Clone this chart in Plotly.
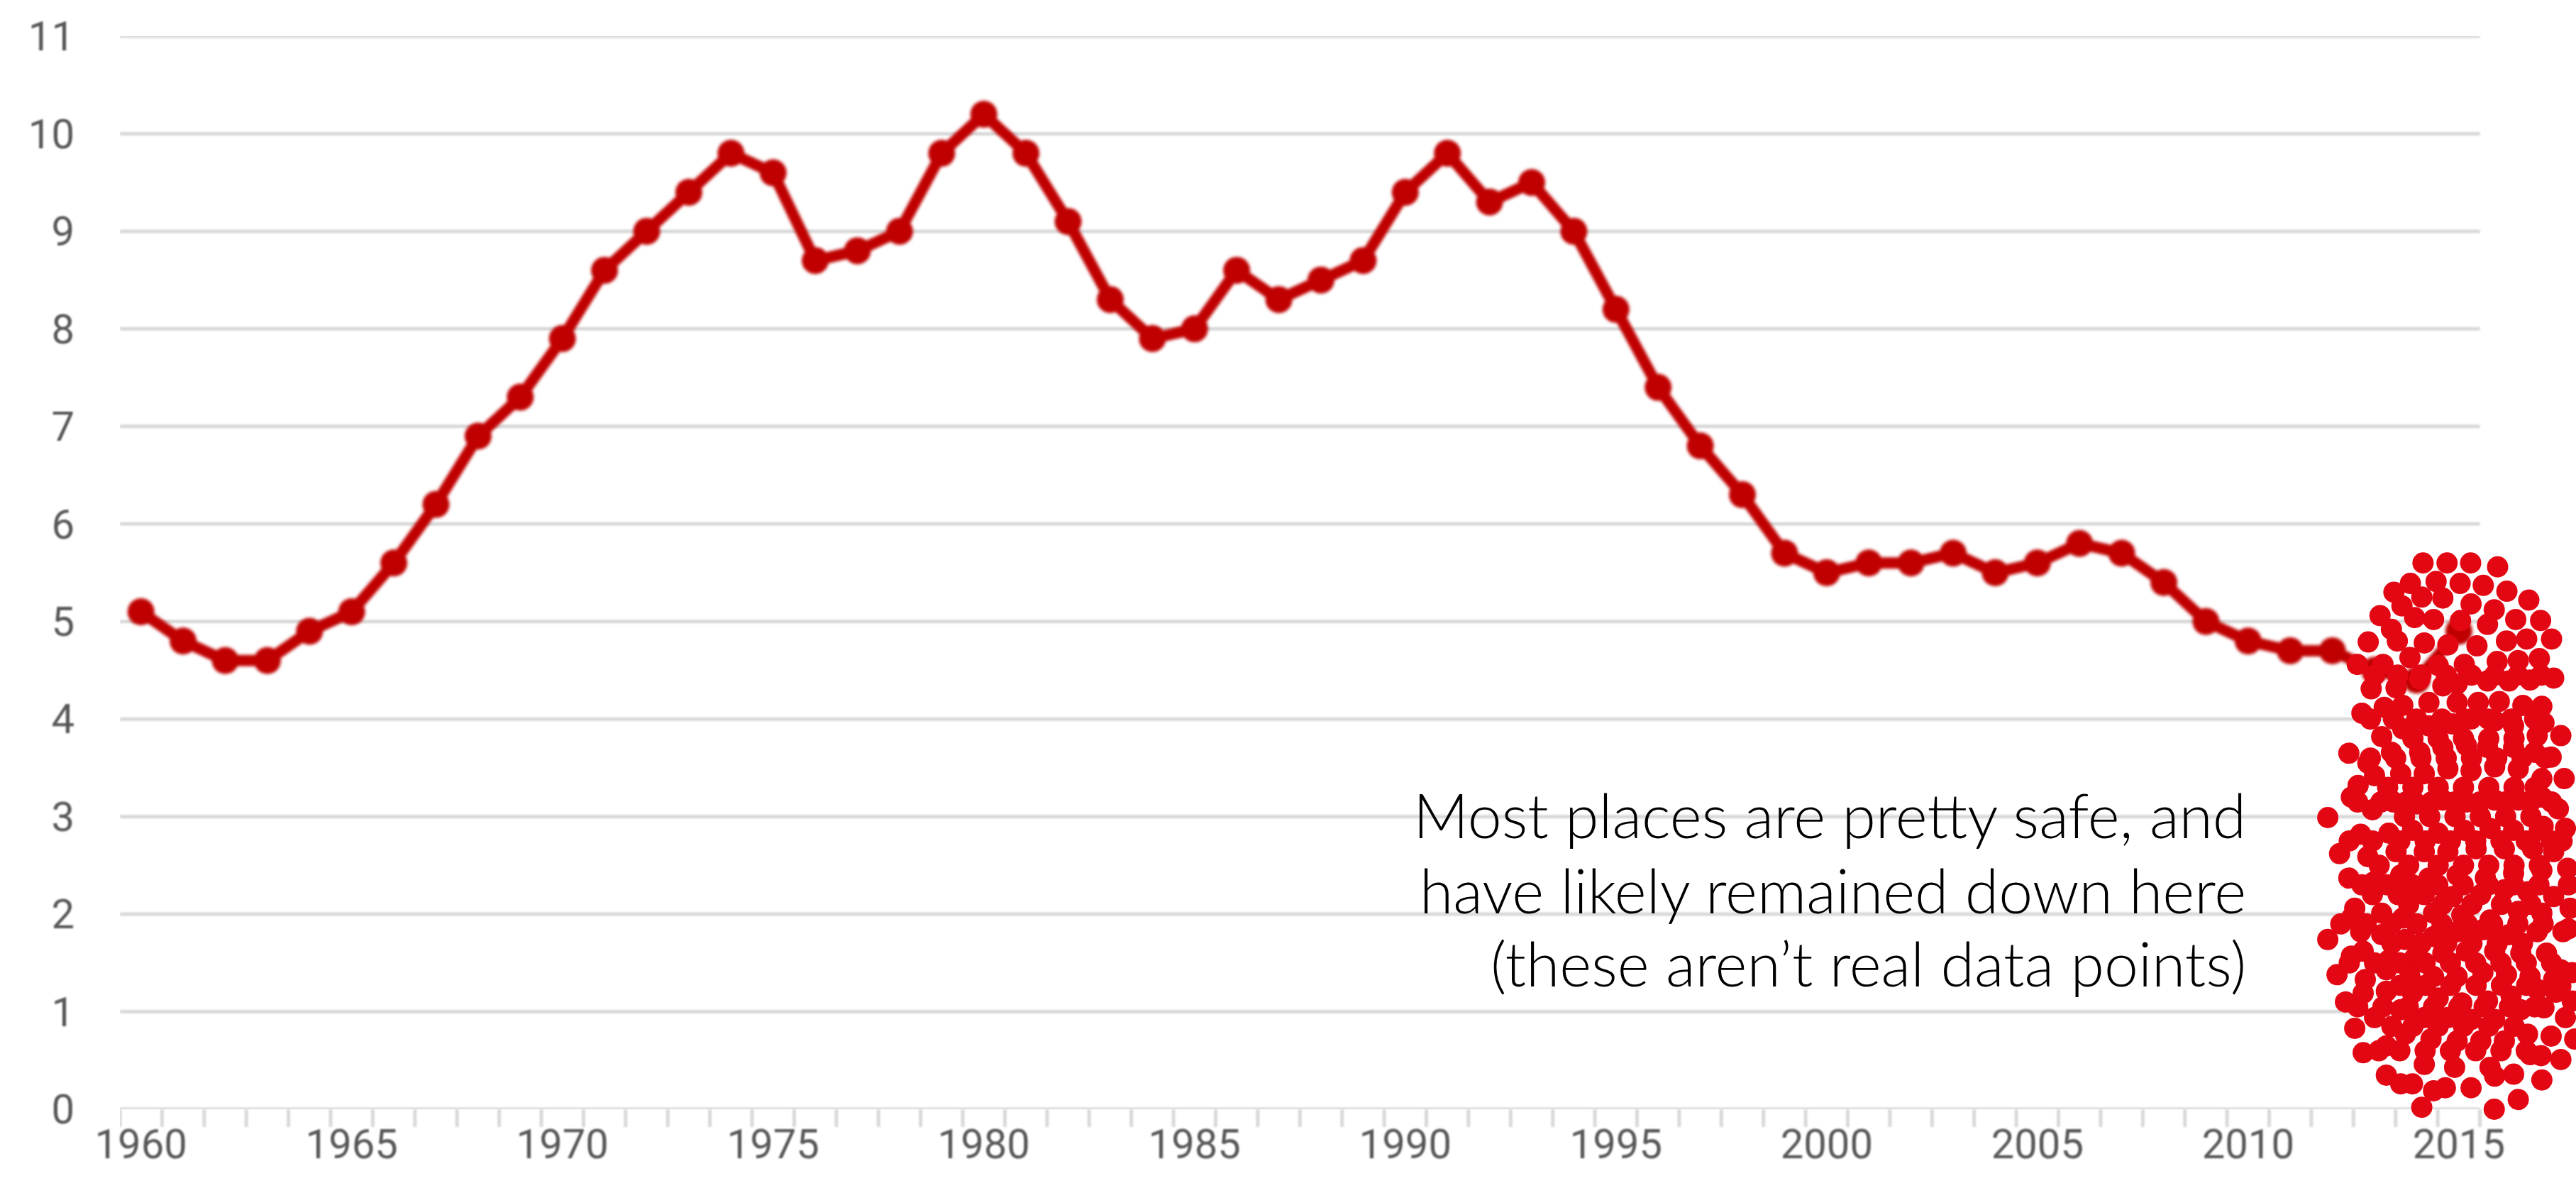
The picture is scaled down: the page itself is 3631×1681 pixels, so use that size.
import plotly.graph_objects as go

# Homicide rate per 100,000 people, 1960-2015
years = list(range(1960, 2016))
rate = [
    5.1, 4.8, 4.6, 4.6, 4.9, 5.1, 5.6, 6.2, 6.9, 7.3,
    7.9, 8.6, 9.0, 9.4, 9.8, 9.6, 8.7, 8.8, 9.0, 9.8,
    10.2, 9.8, 9.1, 8.3, 7.9, 8.0, 8.6, 8.3, 8.5, 8.7,
    9.4, 9.8, 9.3, 9.5, 9.0, 8.2, 7.4, 6.8, 6.3, 5.7,
    5.5, 5.6, 5.6, 5.7, 5.5, 5.6, 5.8, 5.7, 5.4, 5.0,
    4.8, 4.7, 4.7, 4.5, 4.4, 4.9,
]

# Illustrative cloud of "places" sitting low on the scale
cloud_x = [
    2014.15, 2014.72, 2015.28, 2015.92,
    2013.46, 2013.85, 2014.46, 2015.03, 2015.58, 2016.14, 2016.66,
    2013.13, 2013.65, 2014.12, 2014.62, 2015.29, 2015.84, 2016.35, 2016.94,
    2013.40, 2013.95, 2014.40, 2015.04, 2015.68, 2017.20,
    2012.85, 2013.54, 2014.18, 2014.74, 2015.43, 2016.13, 2016.61,
    2012.59, 2013.20, 2013.84, 2014.51, 2015.13, 2015.91, 2016.41, 2016.91,
    2012.92, 2013.51, 2014.07, 2014.62, 2014.96, 2015.68, 2016.19, 2016.69, 2017.25,
    2012.70, 2013.23, 2013.67, 2014.29, 2014.96, 2015.46, 2015.96, 2016.52, 2016.97,
    2012.39, 2013.17, 2013.67, 2014.29, 2014.85, 2015.29, 2015.85, 2016.30, 2016.86, 2017.42, 2017.02,
    2012.84, 2013.40, 2014.07, 2014.62, 2015.18, 2015.68, 2016.30, 2016.80, 2017.19,
    2012.61, 2012.45, 2013.00, 2013.62, 2014.18, 2014.74, 2015.29, 2015.85, 2016.41, 2016.97, 2017.50,
    2011.89, 2012.95, 2013.45, 2014.01, 2014.62, 2015.18, 2015.85, 2016.41, 2016.97, 2017.36,
    2012.67, 2013.34, 2013.90, 2014.51, 2015.13, 2015.74, 2016.30, 2016.91, 2017.53,
    2012.17, 2012.84, 2013.51, 2014.18, 2014.74, 2015.41, 2016.08, 2016.75, 2017.25,
    2012.39, 2012.98, 2013.62, 2014.29, 2014.96, 2015.63, 2016.30, 2016.97, 2017.58,
    2012.95, 2013.56, 2014.18, 2014.85, 2015.52, 2016.08, 2016.63, 2017.25,
    2012.53, 2013.17, 2013.67, 2014.40, 2015.07, 2015.74, 2016.41, 2016.97, 2017.64,
    2011.89, 2012.45, 2012.67, 2013.17, 2013.73, 2014.40, 2014.96, 2015.57, 2016.19, 2016.86, 2017.47,
    2012.45, 2012.11, 2012.73, 2013.34, 2013.95, 2014.62, 2015.18, 2015.85, 2016.47, 2017.08, 2017.42,
    2012.78, 2013.28, 2013.84, 2014.40, 2014.96, 2015.57, 2016.13, 2016.69, 2017.25, 2017.69,
    2012.31, 2012.73, 2013.28, 2013.90, 2014.51, 2015.07, 2015.68, 2016.24, 2016.86, 2017.42, 2017.69,
    2012.53, 2013.00, 2013.62, 2014.18, 2014.74, 2015.29, 2015.85, 2016.47, 2017.02, 2017.53,
    2012.73, 2013.28, 2013.73, 2014.34, 2014.96, 2015.52, 2016.08, 2016.63, 2017.19, 2017.75,
    2013.28, 2013.62, 2013.90, 2014.18, 2014.90, 2015.74, 2016.30, 2016.69, 2017.42,
    2014.40, 2014.68, 2015.29, 2015.85, 2016.97,
    2014.12, 2014.93, 2015.84, 2016.41,
    # denser core
    2013.91, 2014.51, 2015.11, 2015.71, 2016.31,
    2013.31, 2013.91, 2014.51, 2015.11, 2015.71, 2016.31, 2016.81,
    2013.71, 2014.31, 2014.91, 2015.51, 2016.11, 2016.71,
    2013.11, 2013.81, 2014.51, 2015.11, 2015.71, 2016.31, 2016.91,
    2013.81, 2014.61, 2015.31, 2016.01, 2016.71,
    2013.41, 2014.11, 2014.71, 2015.31, 2015.91, 2016.51,
    2013.61, 2014.21, 2014.81, 2015.41, 2016.01, 2016.61,
    2013.41, 2013.91, 2014.51, 2015.11, 2015.71, 2016.31,
    2017.00, 2017.45, 2017.60, 2017.60, 2017.30, 2016.95,
    2013.00, 2013.55, 2014.10, 2014.70, 2015.30, 2015.85, 2016.40, 2016.95,
    2012.90, 2013.45, 2014.00, 2014.60, 2015.15, 2015.70, 2016.25, 2016.80,
    2012.90, 2013.50, 2014.10, 2014.70, 2015.30, 2015.90, 2016.50, 2017.05,
    2012.60, 2013.15, 2013.75, 2014.35, 2014.90, 2015.50, 2016.10, 2016.70, 2017.20,
    2012.40, 2012.95, 2013.60, 2014.20, 2014.80, 2015.40, 2016.00, 2016.60, 2017.20,
    2012.70, 2013.30, 2013.90, 2014.50, 2015.10, 2015.70, 2016.30, 2016.90,
    2012.20, 2012.80, 2013.40, 2014.00, 2014.60, 2015.20, 2015.80, 2016.40, 2017.00,
    2012.40, 2013.00, 2013.60, 2014.20, 2014.80, 2015.40, 2016.00, 2016.60, 2017.20,
    2012.60, 2013.20, 2013.80, 2014.40, 2015.00, 2015.60, 2016.20, 2016.80,
    2013.10, 2013.60, 2014.20, 2014.80, 2015.40, 2016.00, 2016.60,
]
cloud_y = [
    5.60, 5.60, 5.60, 5.56,
    5.30, 5.39, 5.41, 5.39, 5.37, 5.31, 5.22,
    5.06, 5.16, 5.25, 5.24, 5.18, 5.12, 5.02, 5.01,
    4.92, 5.04, 5.02, 5.01, 4.97, 4.82,
    4.79, 4.80, 4.78, 4.76, 4.75, 4.80, 4.82,
    4.56, 4.56, 4.63, 4.55, 4.56, 4.59, 4.60, 4.62,
    4.31, 4.32, 4.41, 4.34, 4.36, 4.39, 4.39, 4.40, 4.42,
    4.06, 4.12, 4.14, 4.17, 4.17, 4.17, 4.18, 4.14, 4.13,
    3.65, 3.82, 3.90, 3.93, 3.95, 4.00, 3.98, 3.93, 3.83, 3.83, 3.96,
    3.55, 3.66, 3.66, 3.71, 3.73, 3.71, 3.71, 3.66, 3.61,
    3.32, 3.20, 3.42, 3.44, 3.44, 3.49, 3.47, 3.51, 3.49, 3.39, 3.39,
    2.99, 3.07, 3.15, 3.13, 3.17, 3.15, 3.17, 3.17, 3.20, 3.08,
    2.82, 2.83, 2.86, 2.83, 2.86, 2.88, 2.86, 2.86, 2.88,
    2.62, 2.59, 2.64, 2.64, 2.64, 2.67, 2.67, 2.67, 2.64,
    2.37, 2.33, 2.40, 2.37, 2.40, 2.37, 2.42, 2.45, 2.47,
    2.20, 2.20, 2.20, 2.18, 2.20, 2.25, 2.23, 2.18,
    2.06, 2.01, 1.96, 2.01, 1.99, 1.94, 2.03, 2.01, 2.06,
    1.74, 1.96, 1.82, 1.79, 1.74, 1.77, 1.82, 1.84, 1.79, 1.82, 1.82,
    1.57, 1.38, 1.62, 1.53, 1.55, 1.60, 1.62, 1.62, 1.60, 1.60, 1.43,
    1.33, 1.43, 1.36, 1.36, 1.36, 1.40, 1.38, 1.36, 1.33, 1.40,
    1.10, 1.19, 1.21, 1.19, 1.14, 1.09, 1.11, 1.16, 1.23, 1.26, 1.11,
    0.83, 0.94, 1.02, 0.94, 0.94, 0.92, 0.92, 1.02, 1.04, 0.94,
    0.58, 0.65, 0.77, 0.72, 0.70, 0.70, 0.70, 0.77, 0.75, 0.72,
    0.35, 0.26, 0.26, 0.46, 0.43, 0.43, 0.36, 0.56, 0.51,
    0.19, 0.22, 0.22, 0.34, 0.30,
    0.02, -0.05, 0.00, 0.10,
    # denser core
    3.80, 3.80, 3.80, 3.80, 3.80,
    3.30, 3.30, 3.30, 3.30, 3.30, 3.30, 3.30,
    3.00, 3.00, 3.00, 3.00, 3.00, 3.00,
    2.50, 2.50, 2.50, 2.50, 2.50, 2.50, 2.50,
    2.10, 2.10, 2.10, 2.10, 2.10,
    1.70, 1.70, 1.70, 1.70, 1.70, 1.70,
    1.27, 1.27, 1.27, 1.27, 1.27, 1.27,
    0.85, 0.85, 0.85, 0.85, 0.85, 0.85,
    2.90, 2.75, 2.30, 1.85, 1.20, 0.55,
    4.45, 4.45, 4.45, 4.45, 4.45, 4.45, 4.45, 4.45,
    4.00, 4.00, 4.00, 4.00, 4.00, 4.00, 4.00, 4.00,
    3.60, 3.60, 3.60, 3.60, 3.60, 3.60, 3.60, 3.60,
    3.15, 3.15, 3.15, 3.15, 3.15, 3.15, 3.15, 3.15, 3.15,
    2.75, 2.75, 2.75, 2.75, 2.75, 2.75, 2.75, 2.75, 2.75,
    2.30, 2.30, 2.30, 2.30, 2.30, 2.30, 2.30, 2.30,
    1.90, 1.90, 1.90, 1.90, 1.90, 1.90, 1.90, 1.90, 1.90,
    1.50, 1.50, 1.50, 1.50, 1.50, 1.50, 1.50, 1.50, 1.50,
    1.05, 1.05, 1.05, 1.05, 1.05, 1.05, 1.05, 1.05,
    0.60, 0.60, 0.60, 0.60, 0.60, 0.60, 0.60,
]

year_ticks = list(range(1960, 2016, 5))
rate_ticks = list(range(0, 12))
note_lines = [
    "Most places are pretty safe, and",
    "have likely remained down here",
    "(these aren\u2019t real data points)",
]
note_y = [3.02, 2.25, 1.50]

AXIS_GREY = "#D9D9D9"
LABEL_GREY = "#595959"
LINE_RED = "#C00000"
DOT_RED = "#E30613"
tick_font = dict(family="Roboto, Arial, sans-serif", size=58, color=LABEL_GREY)

WIDTH, HEIGHT = 3631, 1681
MARGIN = dict(l=169, r=0, t=51, b=118)
TICK_LEN = 25
plot_h = HEIGHT - MARGIN["t"] - MARGIN["b"]

# category-style axis: years sit between tick marks
x_lo, x_hi = years[0] - 0.5, years[-1] + 0.5
boundaries = [y - 0.5 for y in years] + [x_hi]
# the visible range runs on past the last year so the cloud can spill to the edge
view_range = [x_lo, 2017.78]

fig = go.Figure()
fig.add_trace(go.Scatter(
    x=years, y=rate, mode="lines+markers", uid="rateline",
    line=dict(color=LINE_RED, width=16),
    marker=dict(color=LINE_RED, size=38),
    hoverinfo="skip", showlegend=False,
))
fig.add_trace(go.Scatter(
    x=cloud_x, y=cloud_y, mode="markers",
    marker=dict(color=DOT_RED, size=30, line=dict(width=0)),
    cliponaxis=False, hoverinfo="skip", showlegend=False,
))

# horizontal gridlines (the 0 line doubles as the axis line), limited to the data span
for v in rate_ticks:
    fig.add_shape(type="line", xref="x", yref="y", x0=x_lo, x1=x_hi, y0=v, y1=v,
                  line=dict(color=AXIS_GREY, width=5), layer="below")
# tick marks between the yearly categories
for b in boundaries:
    fig.add_shape(type="line", xref="x", yref="paper", x0=b, x1=b,
                  y0=0, y1=-TICK_LEN / plot_h,
                  line=dict(color=AXIS_GREY, width=5), layer="below")

for txt, yv in zip(note_lines, note_y):
    fig.add_annotation(
        x=2009.98, y=yv, xref="x", yref="y",
        xanchor="right", yanchor="middle", align="right",
        text=txt, showarrow=False,
        font=dict(family="Lato, 'Open Sans', sans-serif", size=86, color="#000000", weight=300),
    )

fig.update_layout(
    width=WIDTH, height=HEIGHT, margin=MARGIN,
    paper_bgcolor="white", plot_bgcolor="white",
    xaxis=dict(
        range=view_range, tickvals=year_ticks,
        ticktext=[str(v) for v in year_ticks],
        ticks="", showgrid=False, zeroline=False, showline=False,
        tickfont=tick_font, ticklabelstandoff=10,
    ),
    yaxis=dict(
        range=[0, 11], tickvals=rate_ticks,
        ticks="", showgrid=False, zeroline=False, showline=False,
        tickfont=tick_font, ticklabelstandoff=63,
    ),
)

# soften the rate line, gridlines and axis labels slightly
soften_js = """
var gd = document.getElementById('{plot_id}');
function soften() {
  var svg = gd.querySelector('svg.main-svg');
  if (!svg) return;
  var ns = 'http://www.w3.org/2000/svg';
  function ensure(id, sd) {
    if (document.getElementById(id)) return;
    var defs = svg.querySelector('defs') || svg.insertBefore(document.createElementNS(ns, 'defs'), svg.firstChild);
    var f = document.createElementNS(ns, 'filter');
    f.setAttribute('id', id);
    f.setAttribute('filterUnits', 'userSpaceOnUse');
    f.setAttribute('x', '-5000'); f.setAttribute('y', '-5000');
    f.setAttribute('width', '20000'); f.setAttribute('height', '20000');
    var b = document.createElementNS(ns, 'feGaussianBlur');
    b.setAttribute('stdDeviation', sd);
    f.appendChild(b); defs.appendChild(f);
  }
  ensure('softLine', '2');
  ensure('softThin', '0.9');
  gd.querySelectorAll('.tracerateline').forEach(function (n) { n.setAttribute('filter', 'url(#softLine)'); });
  gd.querySelectorAll('.shapelayer path').forEach(function (n) { n.setAttribute('filter', 'url(#softThin)'); });
  gd.querySelectorAll('.xtick text, .ytick text').forEach(function (n) { n.setAttribute('filter', 'url(#softThin)'); });
}
soften();
if (gd.on) { gd.on('plotly_afterplot', soften); }
"""

fig.write_html("out.html", post_script=soften_js)
